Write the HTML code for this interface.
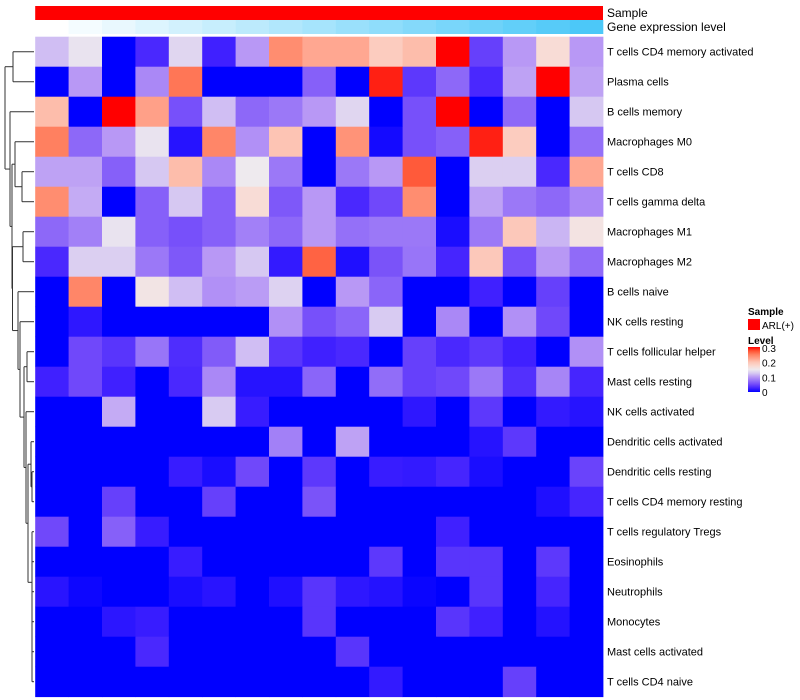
<!DOCTYPE html>
<html><head><meta charset="utf-8"><style>
html,body{margin:0;padding:0;background:#fff;}
svg{display:block;font-family:"Liberation Sans",sans-serif;}
</style></head><body>
<svg id="chart" width="800" height="700" viewBox="0 0 800 700" xmlns="http://www.w3.org/2000/svg"></svg>
<script>
const rowLabels = ["T cells CD4 memory activated","Plasma cells","B cells memory","Macrophages M0","T cells CD8","T cells gamma delta","Macrophages M1","Macrophages M2","B cells naive","NK cells resting","T cells follicular helper","Mast cells resting","NK cells activated","Dendritic cells activated","Dendritic cells resting","T cells CD4 memory resting","T cells regulatory  Tregs","Eosinophils","Neutrophils","Monocytes","Mast cells activated","T cells CD4 naive"];
const values = [
[0.12,0.145,0,0.03,0.135,0.025,0.1,0.24,0.22,0.22,0.19,0.205,0.3,0.045,0.1,0.17,0.1],
[0,0.1,0,0.09,0.255,0,0,0,0.065,0,0.29,0.04,0.07,0.03,0.105,0.3,0.105],
[0.205,0,0.3,0.225,0.055,0.12,0.07,0.08,0.1,0.135,0,0.055,0.3,0,0.07,0,0.125],
[0.25,0.07,0.1,0.145,0.015,0.245,0.095,0.2,0,0.235,0.008,0.055,0.065,0.29,0.19,0,0.075],
[0.105,0.105,0.065,0.125,0.205,0.09,0.15,0.08,0,0.08,0.1,0.27,0,0.13,0.13,0.03,0.22],
[0.24,0.11,0,0.065,0.125,0.065,0.17,0.06,0.1,0.03,0.05,0.24,0,0.105,0.08,0.07,0.09],
[0.07,0.085,0.145,0.065,0.055,0.065,0.085,0.07,0.1,0.075,0.08,0.08,0.01,0.08,0.195,0.115,0.16],
[0.03,0.13,0.13,0.08,0.06,0.1,0.125,0.02,0.265,0.012,0.057,0.078,0.028,0.195,0.055,0.1,0.072],
[0,0.245,0,0.158,0.12,0.095,0.102,0.132,0,0.1,0.068,0,0,0.025,0,0.045,0],
[0,0.018,0,0,0,0,0,0.095,0.055,0.068,0.127,0,0.09,0,0.095,0.05,0],
[0,0.05,0.038,0.078,0.033,0.062,0.12,0.038,0.025,0.03,0,0.045,0.03,0.04,0.025,0,0.095],
[0.025,0.05,0.025,0,0.03,0.09,0.015,0.015,0.068,0,0.073,0.045,0.05,0.08,0.035,0.088,0.028],
[0,0,0.11,0,0,0.127,0.022,0,0,0,0,0.018,0,0.04,0,0.02,0.015],
[0,0,0,0,0,0,0,0.085,0,0.105,0,0,0,0.015,0.04,0,0],
[0,0,0,0,0.022,0.01,0.05,0,0.04,0,0.022,0.02,0.028,0.01,0,0,0.047],
[0,0,0.045,0,0,0.045,0,0,0.057,0,0,0,0,0,0,0.012,0.028],
[0.05,0,0.065,0.022,0,0,0,0,0,0,0,0,0.025,0,0,0,0],
[0,0,0,0,0.022,0,0,0,0,0,0.04,0,0.038,0.038,0,0.04,0],
[0.016,0.005,0,0,0.01,0.016,0,0.012,0.038,0.018,0.014,0.004,0,0.038,0,0.028,0],
[0,0,0.017,0.022,0,0,0,0,0.038,0,0,0,0.038,0.025,0,0.014,0],
[0,0,0,0.03,0,0,0,0,0,0.038,0,0,0,0,0,0,0],
[0,0,0,0,0,0,0,0,0,0,0.02,0,0,0,0.045,0,0]
];
const geneLevel = [0,1,2,3,4,5,6,7,8,9,10,11,12,13,14,15,16];
const legendTicks = [0.3,0.2,0.1,0];

const NS="http://www.w3.org/2000/svg";
const svg=document.getElementById('chart');
const X0=35.2, CW=33.4, Y0=36.7, RH=30;
const nCol=values[0].length;
function xPos(c){return X0+c*CW;}
function yPos(r){return Y0+r*RH;}
const stops=[[0,[0,0,255]],[0.025,[64,32,255]],[0.05,[112,72,250]],[0.075,[148,112,248]],[0.1,[184,152,245]],[0.125,[214,200,242]],[0.15,[238,234,238]],[0.175,[250,216,208]],[0.2,[253,196,180]],[0.225,[255,160,136]],[0.25,[255,128,96]],[0.275,[255,80,48]],[0.3,[255,0,0]]];
function col(v){
  v=Math.max(0,Math.min(0.3,v));
  for(let i=1;i<stops.length;i++){
    if(v<=stops[i][0]){const a=stops[i-1],b=stops[i];const t=(v-a[0])/(b[0]-a[0]);
      const c=a[1].map((x,k)=>Math.round(x+(b[1][k]-x)*t));return `rgb(${c[0]},${c[1]},${c[2]})`;}
  }
  return 'rgb(255,0,0)';
}
function mk(tag,attrs,parent){const e=document.createElementNS(NS,tag);for(const k in attrs)e.setAttribute(k,attrs[k]);(parent||svg).appendChild(e);return e;}

// sample annotation
const sb=mk('rect',{x:X0,y:6,width:CW*nCol,height:14,fill:'#ff0000'});


// gene expression annotation
geneLevel.forEach((g,i)=>{
  const t=g/16;
  const r=Math.round(255+(76-255)*t),gg=Math.round(255+(200-255)*t),b=Math.round(255+(248-255)*t);
  const e=mk('rect',{x:xPos(i),y:20,width:CW+0.3,height:14,fill:`rgb(${r},${gg},${b})`});
  
  
});
let t1=mk('text',{x:607,y:17,'font-size':12,fill:'#000'});t1.textContent='Sample';


let t2=mk('text',{x:607,y:31,'font-size':12,fill:'#000'});t2.textContent='Gene expression level';



// cells
values.forEach((row,r)=>{
  row.forEach((v,c)=>{
    const e=mk('rect',{x:xPos(c),y:yPos(r),width:CW+0.4,height:RH+0.4,fill:col(v)});
    
    
  });
  const t=mk('text',{x:607,y:yPos(r)+RH/2+4,'font-size':11,fill:'#000'});
  t.textContent=rowLabels[r];
  
  
});

// dendrogram
const tree=[5,[13,0,1],[10,2,[12,[15,3,[22,4,5]],[12.5,[23,6,7],[18,8,[20,9,[24,[27,10,11],[26,12,[28,[31,13,[32,14,15]],[32,[32,16,17],[32,18,[32,19,[32,20,21]]]]]]]]]]]]];
const dg=mk('g',{stroke:'#333','stroke-width':1,fill:'none'});


function draw(n){
  if(typeof n==='number')return {x:34,y:yPos(n)+RH/2};
  const a=draw(n[1]),b=draw(n[2]),x=n[0];
  mk('line',{x1:x,y1:a.y,x2:a.x,y2:a.y},dg);
  mk('line',{x1:x,y1:b.y,x2:b.x,y2:b.y},dg);
  mk('line',{x1:x,y1:a.y,x2:x,y2:b.y},dg);
  return {x:x,y:(a.y+b.y)/2};
}
draw(tree);

// legend
let l1=mk('text',{x:748,y:315,'font-size':10,'font-weight':'bold'});l1.textContent='Sample';


let lr=mk('rect',{x:748,y:319,width:12,height:11,fill:'#ff0000'});


let lt=mk('text',{x:762,y:329,'font-size':10});lt.textContent='ARL(+)';


let l2=mk('text',{x:748,y:344,'font-size':10,'font-weight':'bold'});l2.textContent='Level';


const defs=mk('defs',{});
const grad=mk('linearGradient',{id:'lg',x1:0,y1:1,x2:0,y2:0},defs);
stops.forEach(s=>{mk('stop',{offset:(s[0]/0.3),'stop-color':col(s[0])},grad);});
const lb=mk('rect',{x:748,y:347,width:12,height:45,fill:'url(#lg)'});


legendTicks.forEach(v=>{
  const y=392-(v/0.3)*44;
  const t=mk('text',{x:762,y:y+4,'font-size':10});t.textContent=String(v);
  
  
});
</script>
</body></html>
